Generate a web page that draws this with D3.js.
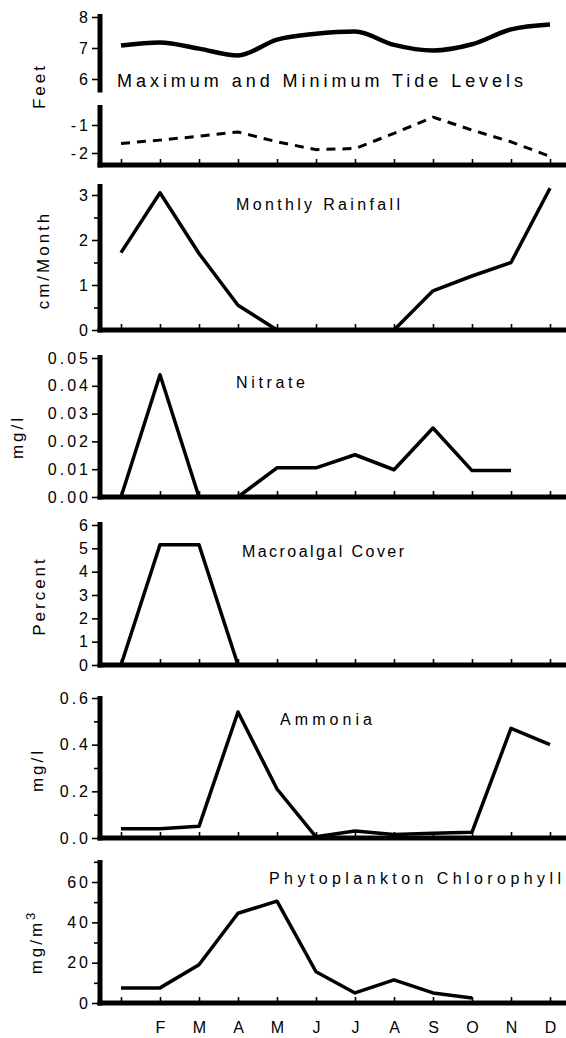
<!DOCTYPE html>
<html>
<head>
<meta charset="utf-8">
<script src="https://cdn.jsdelivr.net/npm/d3@7"></script>
<style>
  body { margin: 0; background: #fff; }
  svg { display: block; font-family: "Liberation Sans", Arial, sans-serif; }
  .tick line { stroke: #000; stroke-width: 1.6; }
  .tick text { fill: #000; }
</style>
</head>
<body>
<svg id="chart" width="566" height="1038"></svg>
<script>
// months (Jan..Dec) and the labels printed under the bottom axis
const months = ["Jan", "Feb", "Mar", "Apr", "May", "Jun", "Jul", "Aug", "Sep", "Oct", "Nov", "Dec"];
const monthLabels = ["", "F", "M", "A", "M", "J", "J", "A", "S", "O", "N", "D"];

// series (null = no sample)
const tideMax = [7.08, 7.18, 6.98, 6.76, 7.27, 7.46, 7.53, 7.1, 6.92, 7.12, 7.6, 7.76];
const tideMin = [-1.66, -1.54, -1.4, -1.25, -1.6, -1.88, -1.84, -1.3, -0.72, -1.18, -1.6, -2.12];
const rainfall = [1.72, 3.05, 1.7, 0.55, 0, 0, 0, 0, 0.87, 1.2, 1.5, 3.15];
const nitrate = [0, 0.044, 0, 0, 0.0105, 0.0105, 0.0152, 0.0098, 0.0248, 0.0095, 0.0095, null];
const macroalgae = [0, 5.15, 5.15, 0, 0, 0, 0, 0, 0, 0, 0, 0];
const ammonia = [0.04, 0.04, 0.05, 0.54, 0.21, 0.005, 0.03, 0.015, 0.02, 0.025, 0.47, 0.4];
const chlorophyll = [7.5, 7.5, 19, 44.5, 50.5, 15.5, 5, 11.5, 5, 2.5, null, null];

// tick values per panel
const tideMaxTicks = [6, 7, 8];
const tideMinTicks = [-2, -1];
const rainTicks = [0, 1, 2, 3];
const rainMinor = [0.5, 1.5, 2.5];
const nitrateTicks = [0, 0.01, 0.02, 0.03, 0.04, 0.05];
const macroTicks = [0, 1, 2, 3, 4, 5, 6];
const ammoniaTicks = [0, 0.2, 0.4, 0.6];
const ammoniaMinor = [0.1, 0.3, 0.5];
const chloroTicks = [0, 20, 40, 60];
const chloroMinor = [10, 30, 50, 70];

const svg = d3.select("#chart");
const axisX = 100;          // vertical axis position
const rightEdge = 566;

const x = d3.scalePoint().domain(months).range([121, 550]);

// panel layout: pixel range of the value scale, axis extent, labels
const panels = [
  { data: tideMax, ticks: tideMaxTicks, minor: [], domain: [6, 8], range: [79, 17], top: 14, bottom: 90,
    fmt: d3.format("d"), curve: d3.curveMonotoneX, width: 4.5, noXAxis: true },
  { data: tideMin, ticks: tideMinTicks, minor: [], domain: [-2, -1], range: [153, 125], top: 105, bottom: 165,
    fmt: d => "-" + Math.abs(d), dash: "9,7", width: 3 },
  { data: rainfall, ticks: rainTicks, minor: rainMinor, domain: [0, 3], range: [330, 195], top: 184, bottom: 330,
    fmt: d3.format("d"), title: "Monthly Rainfall", tx: 236, tw: 164, ty: 210,
    unit: "cm/Month", ux: 49, uy: 260 },
  { data: nitrate, ticks: nitrateTicks, minor: [], domain: [0, 0.05], range: [497, 358], top: 355, bottom: 497,
    fmt: d3.format(".2f"), title: "Nitrate", tx: 236, tw: 69, ty: 388,
    unit: "mg/l", ux: 23, uy: 437 },
  { data: macroalgae, ticks: macroTicks, minor: [], domain: [0, 6], range: [665, 525], top: 522, bottom: 665,
    fmt: d3.format("d"), title: "Macroalgal Cover", tx: 242, tw: 162, ty: 557,
    unit: "Percent", ux: 45, uy: 596 },
  { data: ammonia, ticks: ammoniaTicks, minor: ammoniaMinor, domain: [0, 0.6], range: [838, 698], top: 696, bottom: 838,
    fmt: d3.format(".1f"), title: "Ammonia", tx: 280, tw: 92, ty: 725,
    unit: "mg/l", ux: 43, uy: 770 },
  { data: chlorophyll, ticks: chloroTicks, minor: chloroMinor, domain: [0, 60], range: [1003, 882], top: 860, bottom: 1003,
    fmt: d3.format("d"), title: "Phytoplankton Chlorophyll", tx: 269, tw: 292, ty: 884,
    unit: "mg/m3", ux: 42, uy: 942 }
];

panels.forEach(p => {
  const y = d3.scaleLinear().domain(p.domain).range(p.range);
  const g = svg.append("g");

  // major ticks with labels
  g.append("g")
    .attr("transform", `translate(${axisX},0)`)
    .call(d3.axisLeft(y).tickValues(p.ticks).tickFormat(p.fmt).tickSize(8).tickPadding(1))
    .call(a => a.select(".domain").remove())
    .selectAll("text")
    .style("font-size", "16px")
    .style("letter-spacing", "3px");

  // minor ticks
  if (p.minor.length) {
    g.append("g")
      .attr("transform", `translate(${axisX},0)`)
      .call(d3.axisLeft(y).tickValues(p.minor).tickFormat("").tickSize(6))
      .call(a => a.select(".domain").remove());
  }

  // thick vertical axis bar
  g.append("line")
    .attr("x1", axisX).attr("x2", axisX)
    .attr("y1", p.top).attr("y2", p.bottom + 2.5)
    .attr("stroke", "#000").attr("stroke-width", 5);

  // horizontal axis with upward month ticks
  if (!p.noXAxis) {
    g.append("g")
      .attr("transform", `translate(0,${p.bottom})`)
      .call(d3.axisTop(x).tickSize(6).tickFormat(""))
      .call(a => a.select(".domain").remove());
    g.append("line")
      .attr("x1", axisX - 2.5).attr("x2", rightEdge)
      .attr("y1", p.bottom).attr("y2", p.bottom)
      .attr("stroke", "#000").attr("stroke-width", 5);
  }

  // data line
  const line = d3.line()
    .defined(d => d != null)
    .x((d, i) => x(months[i]))
    .y(d => y(d))
    .curve(p.curve || d3.curveLinear);
  g.append("path")
    .datum(p.data)
    .attr("fill", "none")
    .attr("stroke", "#000")
    .attr("stroke-width", p.width || 3.5)
    .attr("stroke-linejoin", "round")
    .attr("stroke-dasharray", p.dash || null)
    .attr("d", line);

  if (p.title) {
    g.append("text")
      .attr("x", p.tx).attr("y", p.ty)
      .attr("textLength", p.tw).attr("lengthAdjust", "spacing")
      .style("font-size", "16px")
      .text(p.title);
  }

  if (p.unit) {
    const t = g.append("text")
      .attr("transform", `translate(${p.ux},${p.uy}) rotate(-90)`)
      .attr("text-anchor", "middle")
      .style("font-size", "17px")
      .style("letter-spacing", "3px");
    if (p.unit === "mg/m3") {
      t.append("tspan").text("mg/m");
      t.append("tspan").attr("dy", -7).style("font-size", "13px").text("3");
    } else {
      t.text(p.unit);
    }
  }
});

// tide panel title and shared unit label
svg.append("text")
  .attr("x", 117).attr("y", 87)
  .attr("textLength", 406).attr("lengthAdjust", "spacing")
  .style("font-size", "18px")
  .text("Maximum and Minimum Tide Levels");

svg.append("text")
  .attr("transform", "translate(45,86) rotate(-90)")
  .attr("text-anchor", "middle")
  .style("font-size", "17px")
  .style("letter-spacing", "3px")
  .text("Feet");

// month labels under the bottom panel
svg.append("g")
  .attr("transform", "translate(0,1018)")
  .call(d3.axisBottom(x).tickSize(0).tickPadding(4).tickFormat((d, i) => monthLabels[i]))
  .call(a => a.select(".domain").remove())
  .selectAll("text").style("font-size", "16px");
</script>
</body>
</html>
